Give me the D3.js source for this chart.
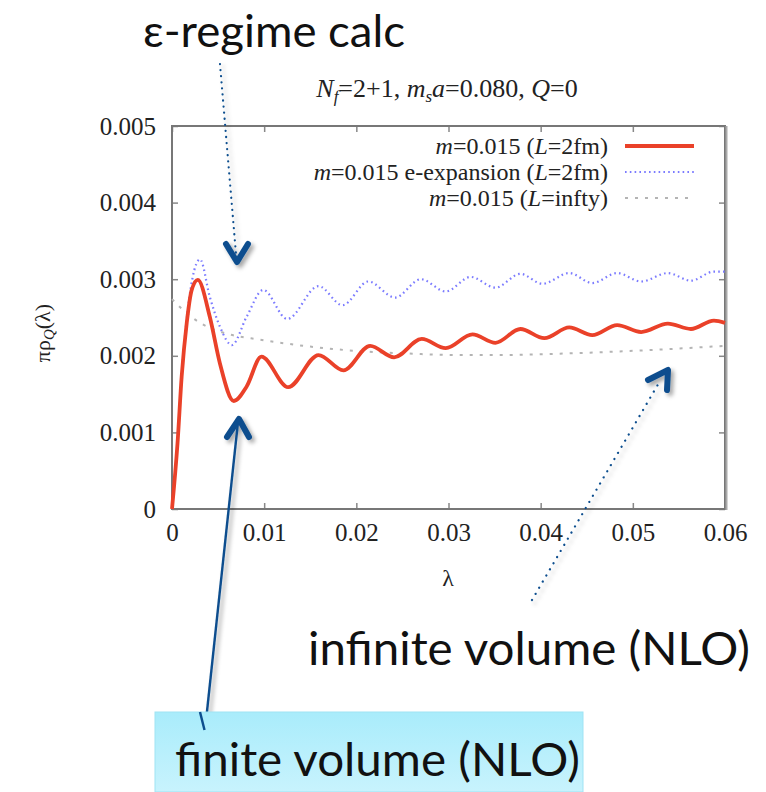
<!DOCTYPE html>
<html><head><meta charset="utf-8">
<script src="https://cdn.jsdelivr.net/npm/d3@7"></script>
<style>
html,body{margin:0;padding:0;background:#fff;}
svg{display:block;}
</style>
</head><body>
<svg id="c" width="766" height="792"></svg>
<script>
// ---- data ----
const xTicks = [0, 0.01, 0.02, 0.03, 0.04, 0.05, 0.06];
const xTickLabels = ["0", "0.01", "0.02", "0.03", "0.04", "0.05", "0.06"];
const yTicks = [0, 0.001, 0.002, 0.003, 0.004, 0.005];
const yTickLabels = ["0", "0.001", "0.002", "0.003", "0.004", "0.005"];

const finiteLambda = [0,0.0006,0.00105,0.0016,0.00214,0.0028,0.0041,0.0052,0.0067,0.0081,0.0097,0.0126,0.0159,0.0186,0.0215,0.0241,0.0271,0.0297,0.0326,0.0351,0.0378,0.0404,0.0431,0.0456,0.0483,0.0509,0.0538,0.0563,0.0588,0.06];
const finiteRho    = [0,0.00086,0.00173,0.00243,0.00286,0.00299,0.00251,0.0019,0.00141,0.0016,0.00199,0.00159,0.00201,0.00181,0.00213,0.00198,0.00222,0.0021,0.00228,0.00217,0.00235,0.00223,0.00237,0.00227,0.0024,0.00231,0.00242,0.00235,0.00246,0.00243];

const epsLambda = [0,0.0006,0.00105,0.0016,0.0022,0.00304,0.0041,0.0052,0.0065,0.0081,0.0099,0.0125,0.0159,0.0185,0.0213,0.0242,0.027,0.0297,0.0324,0.0351,0.0378,0.0402,0.0431,0.0456,0.0483,0.0509,0.0538,0.0563,0.0588,0.06];
const epsRho    = [0,0.00088,0.00175,0.00248,0.003,0.00326,0.00277,0.00238,0.00214,0.00251,0.00286,0.00248,0.00291,0.00266,0.00297,0.00276,0.003,0.00284,0.00303,0.00289,0.00307,0.00294,0.00308,0.00295,0.00308,0.00297,0.00308,0.00298,0.0031,0.0031];

const infLambda = [0,0.001,0.0023,0.004,0.0059,0.0096,0.015,0.0204,0.0255,0.031,0.036,0.04,0.045,0.051,0.06];
const infRho    = [0.00274,0.00262,0.00249,0.00237,0.00229,0.00221,0.00212,0.00206,0.00203,0.00201,0.00201,0.00202,0.00204,0.00207,0.00213];

const legendLabels = [
  [["m","i"],["=0.015 (",""],["L","i"],["=2fm)",""]],
  [["m","i"],["=0.015 e-expansion (",""],["L","i"],["=2fm)",""]],
  [["m","i"],["=0.015  (",""],["L","i"],["=infty)",""]]
];

// ---- drawing ----
const svg = d3.select("#c");
const serif = "'Liberation Serif','Times New Roman',serif";
const sans = "Lato,'Open Sans',sans-serif";
const L = 172, R = 725, T = 126, B = 509;
const x = d3.scaleLinear().domain([0, 0.06]).range([L, R]);
const y = d3.scaleLinear().domain([0, 0.005]).range([B, T]);

const defs = svg.append("defs");
const sh = defs.append("filter").attr("id","sh").attr("x","-50%").attr("y","-50%").attr("width","200%").attr("height","200%");
sh.append("feDropShadow").attr("dx",3).attr("dy",3).attr("stdDeviation",2.2).attr("flood-color","#000").attr("flood-opacity",0.35);
const grad = defs.append("linearGradient").attr("id","bx").attr("x1",0).attr("y1",0).attr("x2",0).attr("y2",1);
grad.append("stop").attr("offset","0%").attr("stop-color","#a9ecfb");
grad.append("stop").attr("offset","100%").attr("stop-color","#c8f3fd");

// title
const title = svg.append("text").attr("x", 447).attr("y", 97).attr("text-anchor","middle")
  .attr("font-family", serif).attr("font-size", 26).attr("fill","#222");
title.append("tspan").attr("font-style","italic").text("N");
title.append("tspan").attr("font-style","italic").attr("font-size",17).attr("dy",5).text("f");
title.append("tspan").attr("dy",-5).text("=2+1, ");
title.append("tspan").attr("font-style","italic").text("m");
title.append("tspan").attr("font-style","italic").attr("font-size",17).attr("dy",5).text("s");
title.append("tspan").attr("font-style","italic").attr("dy",-5).text("a");
title.append("tspan").text("=0.080, ");
title.append("tspan").attr("font-style","italic").text("Q");
title.append("tspan").text("=0");

// axes (ticks inward, mirrored)
function styleAxis(g){
  g.select(".domain").remove();
  g.selectAll(".tick line").attr("stroke","#888").attr("stroke-width",1.5);
  g.selectAll(".tick text").attr("font-family", serif).attr("font-size",25).attr("fill","#222");
}
svg.append("g").attr("transform",`translate(0,${B})`)
  .call(d3.axisBottom(x).tickValues(xTicks).tickFormat((d,i)=>xTickLabels[i]).tickSize(-6).tickPadding(14))
  .call(styleAxis);
svg.append("g").attr("transform",`translate(0,${T})`)
  .call(d3.axisTop(x).tickValues(xTicks).tickFormat("").tickSize(-6)).call(styleAxis);
svg.append("g").attr("transform",`translate(${L},0)`)
  .call(d3.axisLeft(y).tickValues(yTicks).tickFormat((d,i)=>yTickLabels[i]).tickSize(-6).tickPadding(16))
  .call(styleAxis);
svg.append("g").attr("transform",`translate(${R},0)`)
  .call(d3.axisRight(y).tickValues(yTicks).tickFormat("").tickSize(-6)).call(styleAxis);

// frame
svg.append("rect").attr("x",L).attr("y",T).attr("width",R-L).attr("height",B-T)
  .attr("fill","none").attr("stroke","#777").attr("stroke-width",2);
svg.append("line").attr("x1",R+1.5).attr("x2",R+1.5).attr("y1",T).attr("y2",B+1)
  .attr("stroke","#aaa").attr("stroke-width",2);

// axis labels
svg.append("text").attr("x",448).attr("y",586).attr("text-anchor","middle")
  .attr("font-family",serif).attr("font-size",24).attr("fill","#222").text("λ");
const yl = svg.append("text").attr("transform","translate(50,333) rotate(-90)").attr("text-anchor","middle")
  .attr("font-family",serif).attr("font-size",22).attr("fill","#222");
yl.append("tspan").text("πρ");
yl.append("tspan").attr("font-style","italic").attr("font-size",15).attr("dy",4).text("Q");
yl.append("tspan").attr("dy",-4).text("(λ)");

// curves
const line = d3.line().x(d=>x(d[0])).y(d=>y(d[1])).curve(d3.curveMonotoneX);
const zip = (a,b)=>a.map((v,i)=>[v,b[i]]);
const plot = svg.append("g");
plot.append("path").datum(zip(infLambda, infRho)).attr("d", line)
  .attr("fill","none").attr("stroke","#b4b4b4").attr("stroke-width",2).attr("stroke-dasharray","3,7");
plot.append("path").datum(zip(epsLambda, epsRho)).attr("d", line)
  .attr("fill","none").attr("stroke","#7b7bff").attr("stroke-width",2.2).attr("stroke-dasharray","1.6,3.2");
plot.append("path").datum(zip(finiteLambda, finiteRho)).attr("d", line)
  .attr("fill","none").attr("stroke","#ea4129").attr("stroke-width",3.8).attr("stroke-linejoin","round");

// legend
const legStyles = [
  {stroke:"#ea4129", w:4, dash:null},
  {stroke:"#7b7bff", w:2.2, dash:"1.6,3.2"},
  {stroke:"#b4b4b4", w:2, dash:"3,7"}
];
legendLabels.forEach((parts,i)=>{
  const yy = 146 + i*26;
  const t = svg.append("text").attr("x",608).attr("y",yy+8).attr("text-anchor","end")
    .attr("font-family",serif).attr("font-size",24).attr("fill","#222");
  parts.forEach(p=>{ const s=t.append("tspan").text(p[0]); if(p[1]==="i") s.attr("font-style","italic"); });
  svg.append("line").attr("x1",625).attr("x2",694).attr("y1",yy).attr("y2",yy)
    .attr("stroke",legStyles[i].stroke).attr("stroke-width",legStyles[i].w)
    .attr("stroke-dasharray",legStyles[i].dash);
});

// annotations
const ac = "#0d4e8e";
svg.append("text").attr("x",143).attr("y",47).attr("font-family",sans).attr("font-size",45)
  .attr("textLength",262).attr("lengthAdjust","spacingAndGlyphs").attr("fill","#111").text("ε-regime calc");
svg.append("text").attr("x",308).attr("y",665).attr("font-family",sans).attr("font-size",47)
  .attr("textLength",442).attr("lengthAdjust","spacingAndGlyphs").attr("fill","#111").text("infinite volume (NLO)");

const ann = svg.append("g").attr("filter","url(#sh)");
// epsilon arrow (dotted)
ann.append("line").attr("x1",220).attr("y1",64).attr("x2",236).attr("y2",254)
  .attr("stroke",ac).attr("stroke-width",2.2).attr("stroke-dasharray","0.1,6").attr("stroke-linecap","round");
ann.append("path").attr("d","M226,244 L237,262 L248,244").attr("fill","none").attr("stroke",ac)
  .attr("stroke-width",6).attr("stroke-linecap","round").attr("stroke-linejoin","round");
// infinite arrow (dotted)
ann.append("line").attr("x1",532).attr("y1",600).attr("x2",660).attr("y2",381)
  .attr("stroke",ac).attr("stroke-width",2.2).attr("stroke-dasharray","0.1,7").attr("stroke-linecap","round");
ann.append("path").attr("d","M648,380 L668,370 L667,390").attr("fill","none").attr("stroke",ac)
  .attr("stroke-width",6).attr("stroke-linecap","round").attr("stroke-linejoin","round");
// finite arrow (solid)
ann.append("line").attr("x1",205).attr("y1",730).attr("x2",238).attr("y2",422)
  .attr("stroke",ac).attr("stroke-width",2.4);
ann.append("path").attr("d","M227,437 L239,419 L249,437").attr("fill","none").attr("stroke",ac)
  .attr("stroke-width",6).attr("stroke-linecap","round").attr("stroke-linejoin","round");

// finite volume box
svg.append("rect").attr("x",155).attr("y",712).attr("width",428).attr("height",80)
  .attr("fill","url(#bx)").attr("stroke","#9fe3f4").attr("stroke-width",1);
svg.append("line").attr("x1",200).attr("y1",712).attr("x2",204.5).attr("y2",730)
  .attr("stroke",ac).attr("stroke-width",2.4);
svg.append("text").attr("x",175).attr("y",776).attr("font-family",sans).attr("font-size",47)
  .attr("textLength",405).attr("lengthAdjust","spacingAndGlyphs").attr("fill","#111").text("finite volume (NLO)");
</script>
</body></html>
